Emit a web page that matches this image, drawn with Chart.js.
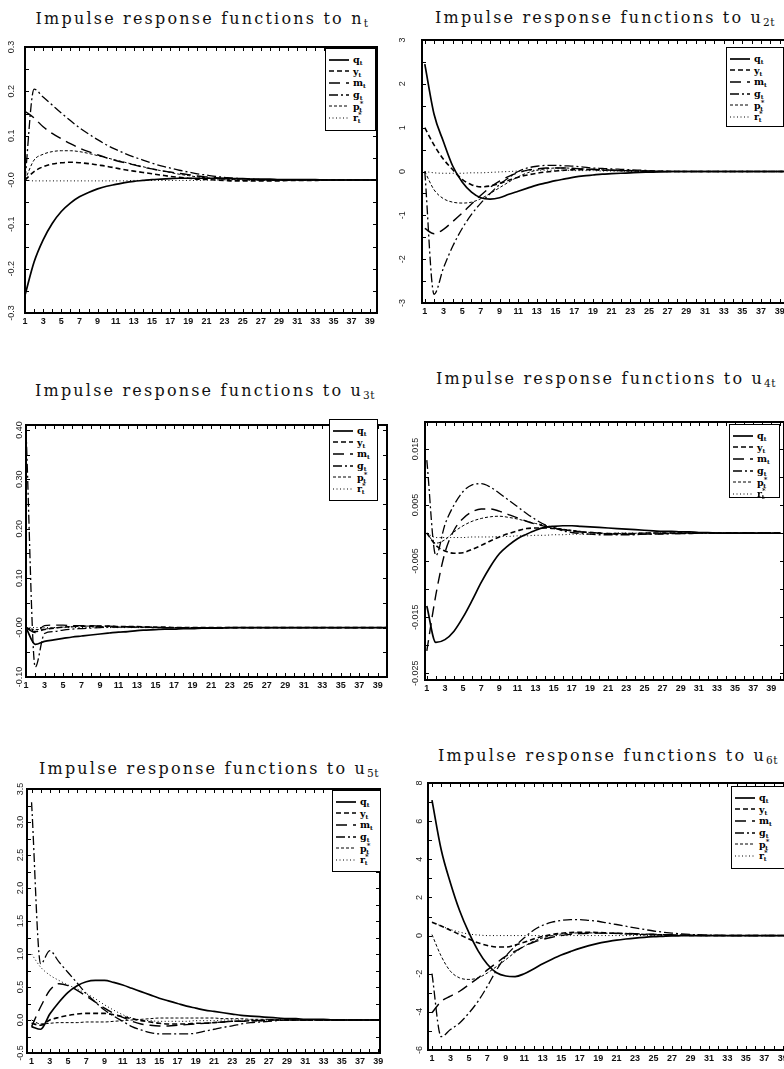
<!DOCTYPE html>
<html><head><meta charset="utf-8">
<script src="https://cdn.jsdelivr.net/npm/chart.js@4.4.0/dist/chart.umd.min.js"></script>
<style>
html,body{margin:0;padding:0;background:#fff;}
body{width:784px;height:1069px;overflow:hidden;position:relative;}
.title{position:absolute;width:440px;text-align:center;font-family:"DejaVu Serif",serif;font-size:16px;letter-spacing:2.2px;color:#111;white-space:nowrap;line-height:18px;}
.title sub{font-size:10.5px;vertical-align:-3px;letter-spacing:0.5px;line-height:0;}
canvas{position:absolute;}
.legend{position:absolute;border:1.3px solid #000;background:#fff;box-sizing:border-box;padding-top:5px;}
.legend .row{height:11.6px;display:flex;align-items:center;}
.legend svg{margin-left:3px;margin-right:4px;flex:none;}
.legend span{font-family:"DejaVu Serif",serif;font-size:9.5px;font-weight:bold;line-height:9px;color:#000;white-space:nowrap;}
.legend sub{font-size:6px;vertical-align:-2px;line-height:0;}
.legend sup{font-size:7px;vertical-align:4px;line-height:0;margin-right:-4px;}
</style></head><body>
<script>
// ---------- data ----------
const periods = [1,2,3,4,5,6,7,8,9,10,11,12,13,14,15,16,17,18,19,20,21,22,23,24,25,26,27,28,29,30,31,32,33,34,35,36,37,38,39,40];
const xTickValues = [1,3,5,7,9,11,13,15,17,19,21,23,25,27,29,31,33,35,37,39];

const seriesNames = ['q', 'y', 'm', 'g', 'p*', 'r*'];

// shock n_t
const n_q = [-0.26,-0.185,-0.135,-0.098,-0.071,-0.052,-0.038,-0.028,-0.02,-0.014,-0.01,-0.006,-0.003,-0.001,0.001,0.002,0.003,0.004,0.004,0.004,0.004,0.004,0.003,0.003,0.003,0.002,0.002,0.002,0.001,0.001,0.001,0.001,0.001,0,0,0,0,0,0,0];
const n_y = [0,0.019,0.03,0.036,0.039,0.04,0.039,0.037,0.034,0.031,0.027,0.023,0.02,0.017,0.014,0.011,0.008,0.006,0.004,0.002,0.001,0,-0.001,-0.002,-0.002,-0.002,-0.002,-0.002,-0.002,-0.001,-0.001,-0.001,-0.001,0,0,0,0,0,0,0];
const n_m = [0.155,0.14,0.12,0.105,0.093,0.082,0.072,0.064,0.057,0.05,0.044,0.039,0.034,0.029,0.025,0.021,0.018,0.015,0.012,0.009,0.007,0.005,0.004,0.003,0.002,0.001,0.001,0,0,0,0,0,0,0,0,0,0,0,0,0];
const n_g = [0,0.205,0.187,0.169,0.151,0.134,0.118,0.104,0.091,0.079,0.069,0.06,0.052,0.045,0.038,0.032,0.027,0.022,0.018,0.014,0.011,0.008,0.006,0.004,0.003,0.002,0.001,0.001,0,0,0,0,0,0,0,0,0,0,0,0];
const n_p = [0,0.045,0.058,0.064,0.066,0.066,0.064,0.06,0.055,0.05,0.045,0.04,0.035,0.03,0.025,0.021,0.017,0.013,0.01,0.007,0.005,0.003,0.002,0.001,0,0,-0.001,-0.001,-0.001,-0.001,0,0,0,0,0,0,0,0,0,0];
const n_r = [0,-0.002,-0.002,-0.002,-0.002,-0.002,-0.002,-0.002,-0.002,-0.002,-0.002,-0.002,-0.001,-0.001,-0.001,-0.001,-0.001,-0.001,-0.001,-0.001,0,0,0,0,0,0,0,0,0,0,0,0,0,0,0,0,0,0,0,0];

// shock u_2t
const u2_q = [2.45,1.3,0.68,0.12,-0.24,-0.47,-0.6,-0.63,-0.6,-0.52,-0.45,-0.38,-0.31,-0.26,-0.21,-0.17,-0.13,-0.1,-0.08,-0.06,-0.05,-0.04,-0.03,-0.02,-0.015,-0.01,-0.005,0,0,0,0,0,0,0,0,0,0,0,0,0];
const u2_y = [1.0,0.6,0.28,0.04,-0.18,-0.3,-0.35,-0.33,-0.27,-0.2,-0.13,-0.08,-0.04,-0.01,0.01,0.03,0.04,0.04,0.04,0.03,0.03,0.02,0.02,0.01,0.01,0.01,0,0,0,0,0,0,0,0,0,0,0,0,0,0];
const u2_m = [-1.3,-1.42,-1.32,-1.14,-0.95,-0.74,-0.54,-0.36,-0.22,-0.11,-0.03,0.03,0.06,0.08,0.08,0.08,0.07,0.06,0.05,0.04,0.03,0.02,0.02,0.01,0.01,0,0,0,0,0,0,0,0,0,0,0,0,0,0,0];
const u2_g = [0,-2.8,-2.2,-1.7,-1.3,-0.98,-0.72,-0.5,-0.3,-0.14,0,0.08,0.12,0.14,0.14,0.13,0.12,0.1,0.08,0.07,0.06,0.05,0.04,0.03,0.02,0.01,0.01,0,0,0,0,0,0,0,0,0,0,0,0,0];
const u2_p = [0,-0.42,-0.62,-0.7,-0.72,-0.7,-0.62,-0.5,-0.37,-0.24,-0.12,-0.03,0.03,0.06,0.08,0.08,0.07,0.06,0.05,0.04,0.03,0.02,0.02,0.01,0.01,0,0,0,0,0,0,0,0,0,0,0,0,0,0,0];
const u2_r = [0,-0.03,-0.04,-0.04,-0.04,-0.03,-0.03,-0.02,-0.01,0,0.01,0.02,0.03,0.03,0.03,0.03,0.02,0.02,0.02,0.01,0.01,0.01,0,0,0,0,0,0,0,0,0,0,0,0,0,0,0,0,0,0];

// shock u_3t
const u3_q = [0,-0.034,-0.028,-0.025,-0.022,-0.019,-0.017,-0.015,-0.013,-0.011,-0.009,-0.008,-0.006,-0.005,-0.004,-0.003,-0.003,-0.002,-0.002,-0.001,-0.001,-0.001,0,0,0,0,0,0,0,0,0,0,0,0,0,0,0,0,0,0];
const u3_y = [0,-0.008,-0.004,-0.001,0.001,0.002,0.003,0.003,0.003,0.003,0.002,0.002,0.002,0.001,0.001,0.001,0,0,0,0,0,0,0,0,0,0,0,0,0,0,0,0,0,0,0,0,0,0,0,0];
const u3_m = [0,-0.01,0.004,0.005,0.005,0.004,0.004,0.004,0.003,0.003,0.002,0.002,0.001,0.001,0.001,0,0,0,0,0,0,0,0,0,0,0,0,0,0,0,0,0,0,0,0,0,0,0,0,0];
const u3_g = [0.4,-0.08,-0.012,-0.008,-0.005,-0.003,-0.002,-0.001,0,0.001,0.001,0.001,0.001,0.001,0,0,0,0,0,0,0,0,0,0,0,0,0,0,0,0,0,0,0,0,0,0,0,0,0,0];
const u3_p = [0,-0.004,-0.003,-0.001,0.001,0.002,0.003,0.003,0.002,0.002,0.001,0.001,0.001,0,0,0,0,0,0,0,0,0,0,0,0,0,0,0,0,0,0,0,0,0,0,0,0,0,0,0];
const u3_r = [0,0,0,0,0,0,0,0,0,0,0,0,0,0,0,0,0,0,0,0,0,0,0,0,0,0,0,0,0,0,0,0,0,0,0,0,0,0,0,0];

// shock u_4t
const u4_q = [-0.013,-0.0195,-0.019,-0.0175,-0.015,-0.012,-0.0088,-0.006,-0.0037,-0.0022,-0.001,-0.0002,0.0005,0.001,0.0012,0.0013,0.0013,0.0012,0.0011,0.001,0.0009,0.0008,0.0007,0.0006,0.0005,0.0004,0.0003,0.0003,0.0002,0.0002,0.0001,0.0001,0,0,0,0,0,0,0,0];
const u4_y = [0,-0.0022,-0.0032,-0.0036,-0.0035,-0.0029,-0.0022,-0.0014,-0.0007,-0.0001,0.0004,0.0008,0.0009,0.0009,0.0008,0.0006,0.0004,0.0002,0.0001,0,-0.0001,-0.0001,-0.0001,-0.0001,0,0,0,0,0,0,0,0,0,0,0,0,0,0,0,0];
const u4_m = [-0.021,-0.011,-0.0035,0.0005,0.0026,0.0038,0.0043,0.0043,0.0039,0.0033,0.0027,0.0021,0.0016,0.0012,0.0009,0.0006,0.0004,0.0002,0.0001,0,-0.0001,-0.0002,-0.0002,-0.0002,-0.0002,-0.0002,-0.0001,-0.0001,-0.0001,0,0,0,0,0,0,0,0,0,0,0];
const u4_g = [0.013,-0.004,0.0015,0.005,0.0074,0.0086,0.0088,0.0082,0.0071,0.0059,0.0047,0.0035,0.0024,0.0015,0.0009,0.0004,0.0001,-0.0001,-0.0002,-0.0003,-0.0003,-0.0003,-0.0003,-0.0003,-0.0002,-0.0002,-0.0002,-0.0001,-0.0001,-0.0001,0,0,0,0,0,0,0,0,0,0];
const u4_p = [0,-0.0018,-0.0012,0.0002,0.0013,0.0021,0.0026,0.0029,0.003,0.0028,0.0025,0.0021,0.0017,0.0014,0.001,0.0007,0.0005,0.0003,0.0001,0,-0.0001,-0.0001,-0.0001,-0.0001,0,0,0,0,0,0,0,0,0,0,0,0,0,0,0,0];
const u4_r = [0,-0.0008,-0.0008,-0.0008,-0.0008,-0.0007,-0.0007,-0.0007,-0.0006,-0.0006,-0.0005,-0.0005,-0.0004,-0.0004,-0.0003,-0.0003,-0.0002,-0.0002,-0.0002,-0.0001,-0.0001,0,0,0,0,0,0,0,0,0,0,0,0,0,0,0,0,0,0,0];

// shock u_5t
const u5_q = [-0.1,-0.14,0.09,0.27,0.42,0.52,0.58,0.6,0.6,0.57,0.53,0.48,0.43,0.38,0.33,0.29,0.25,0.21,0.18,0.15,0.13,0.11,0.09,0.07,0.06,0.05,0.04,0.03,0.02,0.02,0.01,0.01,0.01,0,0,0,0,0,0,0];
const u5_y = [-0.05,-0.08,0,0.04,0.07,0.09,0.1,0.1,0.1,0.08,0.05,0.02,-0.01,-0.03,-0.05,-0.06,-0.06,-0.06,-0.05,-0.05,-0.04,-0.03,-0.02,-0.02,-0.01,-0.01,0,0,0,0,0,0,0,0,0,0,0,0,0,0];
const u5_m = [-0.1,0.2,0.45,0.55,0.52,0.45,0.36,0.27,0.18,0.1,0.04,-0.02,-0.06,-0.08,-0.09,-0.09,-0.08,-0.07,-0.06,-0.05,-0.04,-0.03,-0.02,-0.02,-0.01,-0.01,0,0,0,0,0,0,0,0,0,0,0,0,0,0];
const u5_g = [3.3,0.85,1.05,0.88,0.72,0.56,0.4,0.27,0.15,0.06,-0.02,-0.1,-0.15,-0.19,-0.21,-0.21,-0.21,-0.21,-0.2,-0.17,-0.14,-0.11,-0.09,-0.06,-0.04,-0.03,-0.02,-0.01,0,0,0,0,0,0,0,0,0,0,0,0];
const u5_p = [0,-0.06,-0.05,-0.04,-0.04,-0.04,-0.03,-0.03,-0.03,-0.02,-0.01,0,0.01,0.02,0.03,0.03,0.03,0.03,0.03,0.03,0.03,0.02,0.02,0.02,0.01,0.01,0.01,0,0,0,0,0,0,0,0,0,0,0,0,0];
const u5_r = [1.0,0.8,0.68,0.6,0.53,0.47,0.4,0.32,0.23,0.15,0.08,0.03,0,-0.01,-0.02,-0.02,-0.02,-0.02,-0.01,-0.01,-0.01,0,0,0,0,0,0,0,0,0,0,0,0,0,0,0,0,0,0,0];

// shock u_6t
const u6_q = [7.1,4.5,2.76,1.3,0.15,-0.8,-1.5,-1.95,-2.12,-2.15,-2.0,-1.75,-1.48,-1.24,-1.02,-0.84,-0.67,-0.53,-0.41,-0.32,-0.24,-0.18,-0.13,-0.09,-0.06,-0.04,-0.02,-0.01,0,0,0,0,0,0,0,0,0,0,0,0];
const u6_y = [0.7,0.5,0.28,0.05,-0.18,-0.38,-0.52,-0.6,-0.6,-0.5,-0.35,-0.18,-0.05,0.05,0.12,0.16,0.17,0.17,0.16,0.14,0.12,0.1,0.08,0.06,0.05,0.04,0.03,0.02,0.01,0.01,0,0,0,0,0,0,0,0,0,0];
const u6_m = [-4.05,-3.45,-3.18,-2.92,-2.57,-2.22,-1.8,-1.43,-1.08,-0.82,-0.56,-0.35,-0.2,-0.09,0,0.06,0.1,0.12,0.13,0.13,0.12,0.11,0.1,0.08,0.07,0.05,0.04,0.03,0.02,0.01,0,0,0,0,0,0,0,0,0,0];
const u6_g = [-2.0,-5.3,-4.93,-4.58,-4.06,-3.44,-2.66,-1.8,-1.08,-0.56,-0.12,0.28,0.54,0.7,0.79,0.84,0.84,0.8,0.75,0.66,0.58,0.49,0.4,0.32,0.24,0.18,0.13,0.09,0.06,0.04,0.02,0.01,0,0,0,0,0,0,0,0];
const u6_p = [0.05,-1.08,-1.87,-2.22,-2.3,-2.22,-1.96,-1.62,-1.26,-0.88,-0.56,-0.3,-0.12,0,0.08,0.12,0.14,0.14,0.13,0.12,0.1,0.08,0.06,0.05,0.04,0.03,0.02,0.01,0,0,0,0,0,0,0,0,0,0,0,0];
const u6_r = [0.7,0.5,0.32,0.18,0.08,0.03,0,0,0,0,0,0,0,0,0,0,0,0,0,0,0,0,0,0,0,0,0,0,0,0,0,0,0,0,0,0,0,0,0,0];

// y-axis tick values and labels
const n_yTicks = [-0.3,-0.2,-0.1,0,0.1,0.2,0.3];
const n_yLabels = ['-0.3','-0.2','-0.1','-0.0','0.1','0.2','0.3'];
const u2_yTicks = [-3,-2,-1,0,1,2,3];
const u2_yLabels = ['-3','-2','-1','0','1','2','3'];
const u3_yTicks = [-0.1,0,0.1,0.2,0.3,0.4];
const u3_yLabels = ['-0.10','-0.00','0.10','0.20','0.30','0.40'];
const u4_yTicks = [-0.025,-0.015,-0.005,0.005,0.015];
const u4_yLabels = ['-0.025','-0.015','-0.005','0.005','0.015'];
const u5_yTicks = [-0.5,0,0.5,1,1.5,2,2.5,3,3.5];
const u5_yLabels = ['-0.5','0.0','0.5','1.0','1.5','2.0','2.5','3.0','3.5'];
const u6_yTicks = [-6,-4,-2,0,2,4,6,8];
const u6_yLabels = ['-6','-4','-2','0','2','4','6','8'];

// ---------- styles / layout ----------
const lineStyles = [
  {w: 1.7, dash: []},
  {w: 1.6, dash: [5, 3]},
  {w: 1.4, dash: [11, 6]},
  {w: 1.3, dash: [9, 3, 2, 3]},
  {w: 1.0, dash: [3, 2]},
  {w: 1.0, dash: [1, 2.5]}
];
const legendHTML = ['q<sub>t</sub>', 'y<sub>t</sub>', 'm<sub>t</sub>', 'g<sub>t</sub>', 'p<sup>*</sup><sub>t</sub>', 'r<sup>*</sup><sub>t</sub>'];

const panels = [
  {title: 'Impulse response functions to n<sub>t</sub>', tx: 202, ty: 10,
   series: [n_q, n_y, n_m, n_g, n_p, n_r], yTicks: n_yTicks, yLabels: n_yLabels, yMin: -0.3, yMax: 0.3,
   plot: {l: 25, t: 47, r: 377, b: 313}, xMin: 1, xMax: 39.8, labelOff: 13,
   legend: {l: 325, t: 48, w: 51, h: 83}},
  {title: 'Impulse response functions to u<sub>2t</sub>', tx: 605, ty: 9,
   series: [u2_q, u2_y, u2_m, u2_g, u2_p, u2_r], yTicks: u2_yTicks, yLabels: u2_yLabels, yMin: -3, yMax: 3,
   plot: {l: 422, t: 40, r: 789, b: 303}, xMin: 0.7, xMax: 40, labelOff: 19,
   legend: {l: 726, t: 47, w: 58, h: 80}},
  {title: 'Impulse response functions to u<sub>3t</sub>', tx: 205, ty: 382,
   series: [u3_q, u3_y, u3_m, u3_g, u3_p, u3_r], yTicks: u3_yTicks, yLabels: u3_yLabels, yMin: -0.1, yMax: 0.41,
   plot: {l: 26, t: 425, r: 387, b: 677}, xMin: 1, xMax: 40, labelOff: 6,
   legend: {l: 329, t: 419, w: 49, h: 82}},
  {title: 'Impulse response functions to u<sub>4t</sub>', tx: 606, ty: 370,
   series: [u4_q, u4_y, u4_m, u4_g, u4_p, u4_r], yTicks: u4_yTicks, yLabels: u4_yLabels, yMin: -0.0262, yMax: 0.0198,
   plot: {l: 425, t: 422, r: 784, b: 680}, xMin: 0.8, xMax: 40.4, labelOff: 9,
   legend: {l: 729, t: 424, w: 51, h: 74}},
  {title: 'Impulse response functions to u<sub>5t</sub>', tx: 209, ty: 760,
   series: [u5_q, u5_y, u5_m, u5_g, u5_p, u5_r], yTicks: u5_yTicks, yLabels: u5_yLabels, yMin: -0.5, yMax: 3.5,
   plot: {l: 27, t: 789, r: 380, b: 1053}, xMin: 0.5, xMax: 39.2, labelOff: 6,
   legend: {l: 332, t: 790, w: 49, h: 82}},
  {title: 'Impulse response functions to u<sub>6t</sub>', tx: 608, ty: 747,
   series: [u6_q, u6_y, u6_m, u6_g, u6_p, u6_r], yTicks: u6_yTicks, yLabels: u6_yLabels, yMin: -6, yMax: 8,
   plot: {l: 428, t: 783, r: 792, b: 1050}, xMin: 0.57, xMax: 40, labelOff: 8,
   legend: {l: 731, t: 786, w: 56, h: 83}}
];

// ---------- frame / ticks / rotated y labels ----------
const framePlugin = {
  id: 'frame',
  afterDatasetsDraw(chart) {
    const cfg = chart.options.plugins.frame;
    const {ctx, chartArea: a} = chart;
    const xs = chart.scales.x, ys = chart.scales.y;
    ctx.save();
    ctx.strokeStyle = '#000';
    ctx.lineWidth = 1;
    ctx.beginPath();
    for (const t of periods) {
      if (t < xs.min || t > xs.max) continue;
      const px = Math.round(xs.getPixelForValue(t)) + 0.5;
      ctx.moveTo(px, a.bottom); ctx.lineTo(px, a.bottom - 4);
      ctx.moveTo(px, a.top); ctx.lineTo(px, a.top + 4);
    }
    const tv = cfg.yTicks;
    const step = tv[1] - tv[0];
    const marks = [];
    for (let i = 0; i < tv.length; i++) { marks.push(tv[i]); marks.push(tv[i] + step / 2); marks.push(tv[i] - step / 2); }
    for (const v of marks) {
      if (v < ys.min || v > ys.max) continue;
      const py = Math.round(ys.getPixelForValue(v)) + 0.5;
      ctx.moveTo(a.left, py); ctx.lineTo(a.left + 4, py);
      ctx.moveTo(a.right, py); ctx.lineTo(a.right - 4, py);
    }
    ctx.stroke();
    ctx.lineWidth = 2;
    ctx.strokeRect(a.left, a.top, a.right - a.left, a.bottom - a.top);
    ctx.fillStyle = '#222';
    ctx.font = '9px "Liberation Sans", Arial, sans-serif';
    ctx.textAlign = 'center';
    ctx.textBaseline = 'middle';
    tv.forEach((v, i) => {
      const py = ys.getPixelForValue(v);
      ctx.save();
      ctx.translate(a.left - cfg.labelOff, py);
      ctx.rotate(-Math.PI / 2);
      ctx.fillText(cfg.yLabels[i], 0, 0);
      ctx.restore();
    });
    ctx.restore();
  }
};

const padL = 34, padT = 8, padR = 10, padB = 4, xAxisH = 14;

panels.forEach((p) => {
  const W = p.plot.r - p.plot.l + padL + padR;
  const H = p.plot.b - p.plot.t + padT + padB + xAxisH;
  const canvas = document.createElement('canvas');
  canvas.width = W; canvas.height = H;
  canvas.style.left = (p.plot.l - padL) + 'px';
  canvas.style.top = (p.plot.t - padT) + 'px';
  canvas.style.width = W + 'px';
  canvas.style.height = H + 'px';
  document.body.appendChild(canvas);

  new Chart(canvas, {
    type: 'line',
    data: {
      labels: periods,
      datasets: p.series.map((d, i) => ({
        label: seriesNames[i],
        data: d,
        borderColor: '#000',
        borderWidth: lineStyles[i].w,
        borderDash: lineStyles[i].dash,
        pointRadius: 0,
        fill: false,
        cubicInterpolationMode: 'monotone'
      }))
    },
    options: {
      responsive: false,
      animation: false,
      devicePixelRatio: 1,
      layout: {padding: {left: padL, top: padT, right: padR, bottom: padB}},
      scales: {
        x: {
          type: 'linear', min: p.xMin, max: p.xMax,
          afterBuildTicks: (s) => { s.ticks = xTickValues.map(v => ({value: v})); },
          afterFit: (s) => { s.height = xAxisH; },
          grid: {display: false, drawTicks: false},
          border: {display: false},
          ticks: {autoSkip: false, maxRotation: 0, minRotation: 0, padding: 3, color: '#111',
                  font: {family: '"Liberation Sans", Arial, sans-serif', size: 9, weight: 'bold'},
                  callback: (v) => String(v)}
        },
        y: {display: false, min: p.yMin, max: p.yMax}
      },
      plugins: {
        legend: {display: false},
        tooltip: {enabled: false},
        frame: {yTicks: p.yTicks, yLabels: p.yLabels, labelOff: p.labelOff}
      }
    },
    plugins: [framePlugin]
  });

  const title = document.createElement('div');
  title.className = 'title';
  title.style.left = (p.tx - 220) + 'px';
  title.style.top = p.ty + 'px';
  title.innerHTML = p.title;
  document.body.appendChild(title);

  const lg = document.createElement('div');
  lg.className = 'legend';
  lg.style.left = p.legend.l + 'px';
  lg.style.top = p.legend.t + 'px';
  lg.style.width = p.legend.w + 'px';
  lg.style.height = p.legend.h + 'px';
  lineStyles.forEach((st, i) => {
    const row = document.createElement('div');
    row.className = 'row';
    const dash = st.dash.length ? st.dash.join(',') : 'none';
    row.innerHTML = `<svg width="20" height="4"><line x1="0" y1="2" x2="20" y2="2" stroke="#000" stroke-width="${st.w}" stroke-dasharray="${dash}"/></svg><span>${legendHTML[i]}</span>`;
    lg.appendChild(row);
  });
  document.body.appendChild(lg);
});
</script>
</body></html>
